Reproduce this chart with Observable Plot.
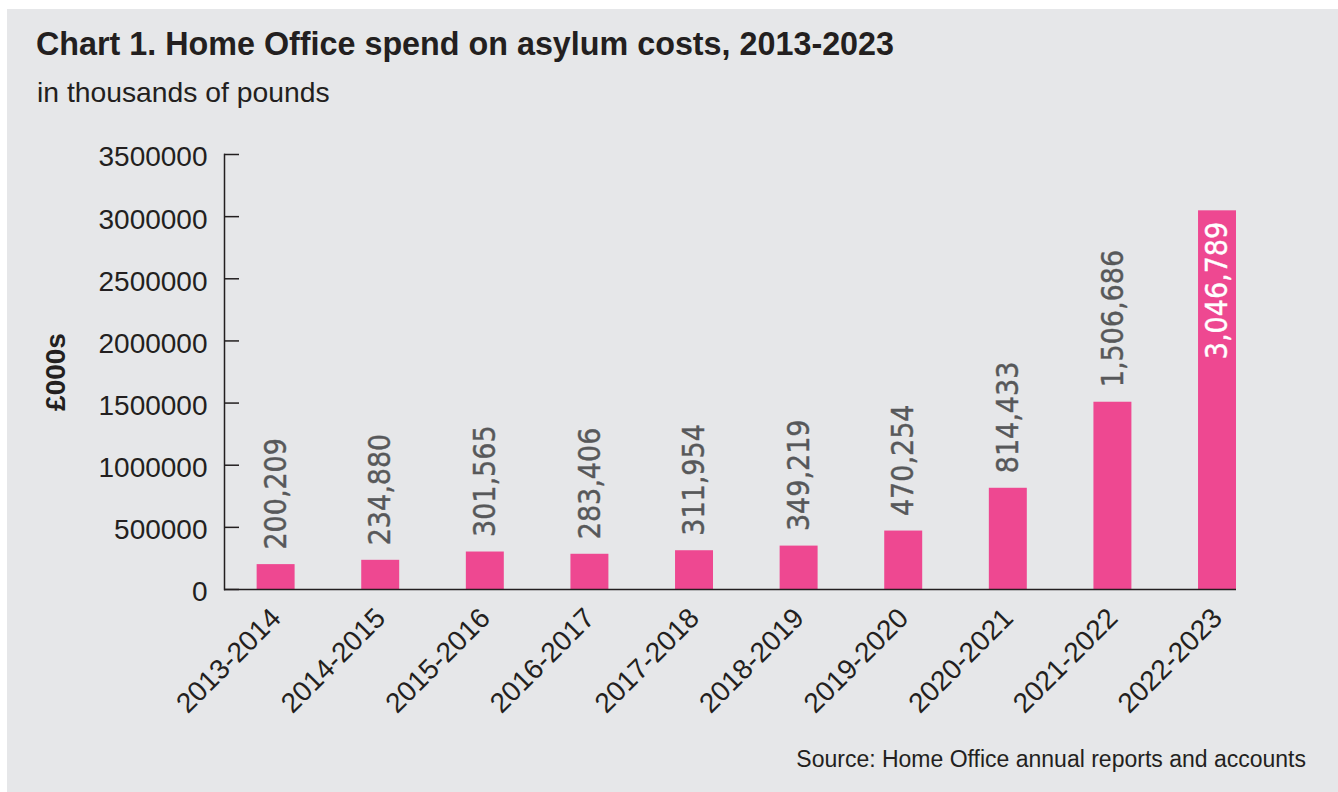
<!DOCTYPE html>
<html>
<head>
<meta charset="utf-8">
<script src="https://cdn.jsdelivr.net/npm/d3@7"></script>
<script src="https://cdn.jsdelivr.net/npm/@observablehq/plot@0.6"></script>
<style>
  html, body { margin: 0; padding: 0; background: #ffffff; }
  body { width: 1338px; height: 792px; position: relative; overflow: hidden; font-family: "Liberation Sans", Arial, sans-serif; color: #231f20; }
  #panel { position: absolute; left: 7px; top: 9px; right: 0; bottom: 0; background: #e6e7e9; }
  #title { position: absolute; left: 36px; top: 28px; font-size: 32.3px; line-height: 1; font-weight: bold; white-space: nowrap; }
  #subtitle { position: absolute; left: 37px; top: 78px; font-size: 28.3px; line-height: 1; white-space: nowrap; }
  #chart { position: absolute; left: 0; top: 120px; }
  #caption { position: absolute; right: 32px; top: 748px; font-size: 23px; line-height: 1; white-space: nowrap; }
</style>
</head>
<body>
<div id="panel"></div>
<div id="title">Chart 1. Home Office spend on asylum costs, 2013-2023</div>
<div id="subtitle">in thousands of pounds</div>
<div id="chart"></div>
<div id="caption">Source: Home Office annual reports and accounts</div>
<script>
const years = ["2013-2014", "2014-2015", "2015-2016", "2016-2017", "2017-2018", "2018-2019", "2019-2020", "2020-2021", "2021-2022", "2022-2023"];
const spend = [200209, 234880, 301565, 283406, 311954, 349219, 470254, 814433, 1506686, 3046789];
const yTicks = [0, 500000, 1000000, 1500000, 2000000, 2500000, 3000000, 3500000];
const yLabel = "£000s";

const data = years.map((year, i) => ({year, spend: spend[i]}));
const inside = d => d.spend > 2000000;
const fmt = d3.format(",");
const ink = "#231f20";

const chart = Plot.plot({
  width: 1338,
  height: 620,
  marginTop: 34,
  marginBottom: 151,
  marginLeft: 224,
  marginRight: 102,
  style: {background: "transparent", fontFamily: "Liberation Sans, Arial, sans-serif", color: ink, overflow: "visible"},
  x: {domain: years, paddingInner: 0.637, paddingOuter: 0.156, align: 1, round: false, label: null},
  y: {domain: [0, 3500000], label: null},
  marks: [
    Plot.barY(data, {x: "year", y: "spend", fill: "#ee4891"}),
    Plot.ruleY([0], {stroke: ink, strokeWidth: 1.5}),
    Plot.frame({anchor: "left", stroke: ink, strokeWidth: 1.5}),
    Plot.axisY({ticks: yTicks, tickSize: -15, text: null, stroke: ink, strokeWidth: 1.5, label: null}),
    Plot.axisY({ticks: yTicks, tickSize: 0, tickPadding: 17, dy: 3, tickFormat: d3.format("d"), fontSize: 28, fill: ink, label: null}),
    Plot.axisX({tickSize: 0, tickPadding: 24, tickRotate: -45, fontSize: 28, fill: ink, label: null}),
    Plot.text([yLabel], {frameAnchor: "left", textAnchor: "middle", rotate: -90, dx: -168, fontWeight: "bold", fontSize: 28, fill: ink}),
    Plot.text(data.filter(d => !inside(d)), {x: "year", y: "spend", text: d => fmt(d.spend), rotate: -90, textAnchor: "start", dy: -15, fill: "#57585a", stroke: "#57585a", strokeWidth: 0.4, fontSize: 30, fontFamily: "DejaVu Sans Condensed"}),
    Plot.text(data.filter(inside), {x: "year", y: "spend", text: d => fmt(d.spend), rotate: -90, textAnchor: "end", dy: 11, fill: "#ffffff", stroke: "#ffffff", strokeWidth: 0.4, fontSize: 30, fontFamily: "DejaVu Sans Condensed"})
  ]
});
document.getElementById("chart").appendChild(chart);
</script>
</body>
</html>
